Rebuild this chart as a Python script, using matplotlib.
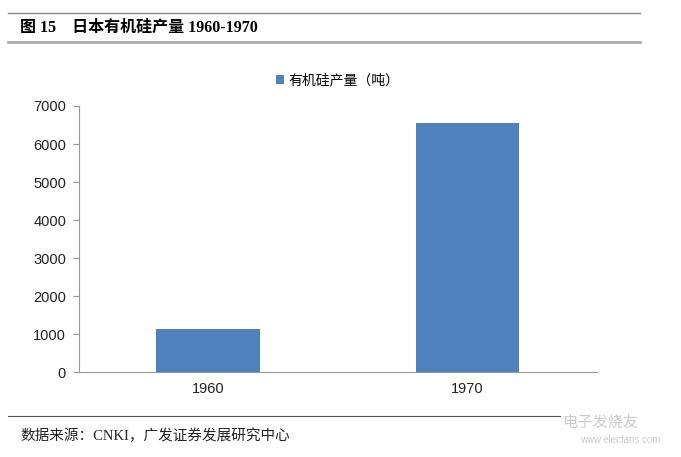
import numpy as np
import matplotlib.pyplot as plt

plt.rcParams['font.family'] = ['Liberation Sans', 'Noto Sans CJK SC', 'DejaVu Sans']

years = ['1960', '1970']
output = [1130, 6550]
series_name = '有机硅产量（吨）'
title = '图 15    日本有机硅产量 1960-1970'
source = '数据来源：CNKI，广发证券发展研究中心'

fig = plt.figure(figsize=(6.81, 4.57), dpi=100)
W, H = 681, 457
ax = fig.add_axes([78.5 / W, 1 - 372 / H, (597 - 78.5) / W, (372 - 106) / H])

x = np.arange(len(years))
ax.bar(x, output, width=0.4, color='#4f81bd', label=series_name)
ax.set_xlim(-0.5, 1.5)
ax.set_ylim(0, 7000)
ax.set_yticks(np.arange(0, 7001, 1000))
ax.set_xticks(x)
ax.set_xticklabels(years)
ax.tick_params(axis='both', labelsize=10.5, colors='#222222', length=0, pad=7)
ax.tick_params(axis='y', length=4, direction='out', color='#999999', pad=5)
for s in ['top', 'right']:
    ax.spines[s].set_visible(False)
ax.spines['left'].set_color('#999999')
ax.spines['bottom'].set_color('#999999')

ax.legend(loc='upper center', bbox_to_anchor=(0.5, 1.17), frameon=False,
          prop={'family': ['Noto Sans CJK SC'], 'size': 10},
          handlelength=0.6, handleheight=0.6, handletextpad=0.3)

serif = ['Liberation Serif', 'Noto Sans CJK SC']
# header / footer rules and text
fig.add_artist(plt.Line2D([8 / W, 640 / W], [1 - 13 / H] * 2, color='#888888', lw=1))
fig.add_artist(plt.Line2D([8 / W, 640 / W], [1 - 42 / H] * 2, color='#aaaaaa', lw=2))
fig.text(20 / W, 1 - 28 / H, title, fontsize=11.5, fontweight='bold', va='center', ha='left',
         family=serif)
fig.add_artist(plt.Line2D([8 / W, 560 / W], [1 - 416 / H] * 2, color='#555555', lw=0.8))
fig.text(20 / W, 1 - 436 / H, source, fontsize=10.5, va='center', ha='left', color='#222222',
         family=serif)
fig.text(600 / W, 1 - 422 / H, '电子发烧友', fontsize=11, va='center', ha='center', color='#cccccc',
         family=['Noto Sans CJK SC'])
fig.text(620 / W, 1 - 440 / H, 'www.elecfans.com', fontsize=7, va='center', ha='center', color='#cccccc')

plt.savefig('out.png', dpi=100)
